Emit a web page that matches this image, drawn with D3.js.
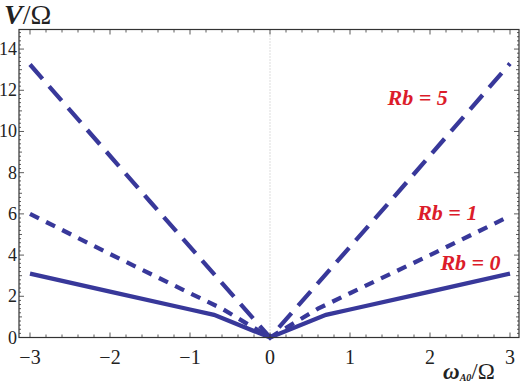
<!DOCTYPE html>
<html>
<head>
<meta charset="utf-8">
<script src="https://cdn.jsdelivr.net/npm/d3@7"></script>
<style>
  body { margin: 0; background: #fff; }
</style>
</head>
<body>
<div class="chart"></div>
<script>
// Values
var xTicks = [-3, -2, -1, 0, 1, 2, 3],
  yTicks = [0, 2, 4, 6, 8, 10, 12, 14];

var omegaRb0 = [-3, -2, -1, -0.7, 0, 0.7, 1, 2, 3],
  valueRb0 = [3.1, 2.23, 1.36, 1.1, 0, 1.1, 1.36, 2.23, 3.1];
var omegaRb1 = [-3, -2, -1, -0.6, 0, 0.6, 1, 2, 3],
  valueRb1 = [6.0, 4.05, 2.15, 1.4, 0, 1.4, 2.15, 4.0, 5.9];
var omegaRb5 = [-3, -1.5, 0, 1.5, 3],
  valueRb5 = [13.25, 6.6, 0, 6.6, 13.3];

var labels = ["Rb = 0", "Rb = 1", "Rb = 5"],
  labelPos = [[2.13, 3.3], [1.84, 5.7], [1.47, 11.3]];

// Parameters for chart
var width = 520,
  height = 383,
  plotLeft = 19,
  plotRight = 519,
  plotTop = 29.5,
  plotBottom = 337.5,
  lineColor = "#38389a",
  labelColor = "#dc1c2a",
  serif = "'Liberation Serif', 'Times New Roman', Times, 'DejaVu Serif', serif";

var x = d3.scaleLinear().domain([-3.1375, 3.1125]).range([plotLeft, plotRight]),
  y = d3.scaleLinear().domain([0, 14.95]).range([plotBottom, plotTop]);

var svg = d3.select(".chart").append("svg")
  .attr("width", width)
  .attr("height", height)
  .attr("font-family", serif)
  .style("font-family", serif);

// dotted line at zero
svg.append("line")
  .attr("x1", x(0)).attr("x2", x(0))
  .attr("y1", plotTop).attr("y2", plotBottom)
  .style("stroke", "#bbb")
  .style("stroke-width", 1)
  .style("stroke-dasharray", "1,2");

// curves
var line = d3.line()
  .x(function(d) { return x(d[0]); })
  .y(function(d) { return y(d[1]); });

var series = [
  { xs: omegaRb0, ys: valueRb0, dash: null },
  { xs: omegaRb1, ys: valueRb1, dash: "10,8" },
  { xs: omegaRb5, ys: valueRb5, dash: "19,10" }
];

svg.append("g").selectAll("path")
  .data(series)
  .enter().append("path")
  .attr("d", function(s) {
    return line(s.xs.map(function(v, i) { return [v, s.ys[i]]; }));
  })
  .style("fill", "none")
  .style("stroke", lineColor)
  .style("stroke-width", 4.3)
  .style("stroke-dasharray", function(s) { return s.dash; });

// frame
svg.append("rect")
  .attr("x", plotLeft).attr("y", plotTop)
  .attr("width", plotRight - plotLeft).attr("height", plotBottom - plotTop)
  .style("fill", "none")
  .style("stroke", "#333")
  .style("stroke-width", 1.2);

// ticks inside the frame, on all four sides
var xMinor = d3.range(-3, 3.01, 0.2),
  yMinor = d3.range(0, 14.81, 0.2);
var tickG = svg.append("g").style("stroke", "#333").style("stroke-width", 0.8);

function isMajor(v, step) { return Math.abs(v / step - Math.round(v / step)) < 1e-6; }

xMinor.forEach(function(v) {
  var len = isMajor(v, 1) ? 5 : 3;
  tickG.append("line").attr("x1", x(v)).attr("x2", x(v))
    .attr("y1", plotBottom).attr("y2", plotBottom - len);
  tickG.append("line").attr("x1", x(v)).attr("x2", x(v))
    .attr("y1", plotTop).attr("y2", plotTop + len);
});
yMinor.forEach(function(v) {
  var len = isMajor(v, 2) ? 5 : (isMajor(v, 1) ? 3 : 2);
  tickG.append("line").attr("y1", y(v)).attr("y2", y(v))
    .attr("x1", plotLeft).attr("x2", plotLeft + len);
  tickG.append("line").attr("y1", y(v)).attr("y2", y(v))
    .attr("x1", plotRight).attr("x2", plotRight - len);
});

// tick labels
svg.append("g").selectAll("text")
  .data(xTicks)
  .enter().append("text")
  .attr("x", function(d) { return x(d); })
  .attr("y", 364)
  .attr("text-anchor", "middle")
  .style("font-size", "20px")
  .style("fill", "#222")
  .text(function(d) { return d < 0 ? "\u2212" + (-d) : d; });

svg.append("g").selectAll("text")
  .data(yTicks)
  .enter().append("text")
  .attr("x", 17)
  .attr("y", function(d) { return y(d) + 6; })
  .attr("text-anchor", "end")
  .style("font-size", "18px")
  .style("fill", "#222")
  .text(function(d) { return d; });

// axis titles
var yTitle = svg.append("text")
  .attr("x", 4).attr("y", 24)
  .style("font-size", "28px")
  .style("fill", "#222");
yTitle.append("tspan").style("font-style", "italic").style("font-weight", "bold").text("V");
yTitle.append("tspan").text("/\u03a9");

var xTitle = svg.append("text")
  .attr("x", 443).attr("y", 379)
  .style("font-size", "23px")
  .style("fill", "#222");
xTitle.append("tspan").style("font-style", "italic").style("font-weight", "bold").text("\u03c9");
xTitle.append("tspan").attr("dy", 2).style("font-size", "10px")
  .style("font-style", "italic").style("font-weight", "bold").text("A0");
xTitle.append("tspan").attr("dy", -2).text("/\u03a9");

// series labels
svg.append("g").selectAll("text")
  .data(labels)
  .enter().append("text")
  .attr("x", function(d, i) { return x(labelPos[i][0]); })
  .attr("y", function(d, i) { return y(labelPos[i][1]); })
  .style("font-size", "22px")
  .style("font-weight", "bold")
  .style("font-style", "italic")
  .style("fill", labelColor)
  .text(function(d) { return d; });
</script>
</body>
</html>
